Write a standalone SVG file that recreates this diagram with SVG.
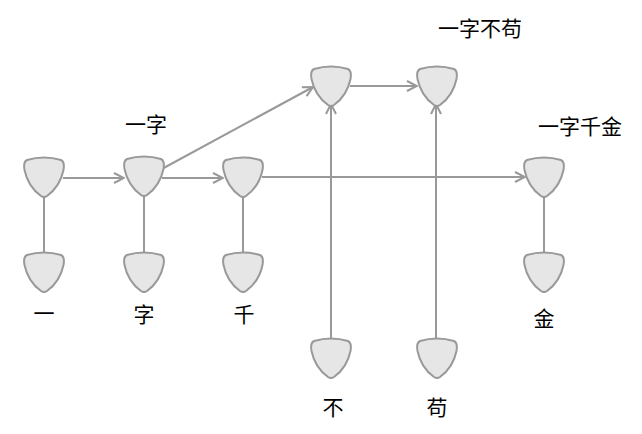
<svg xmlns="http://www.w3.org/2000/svg" width="642" height="434" viewBox="0 0 642 434">
<style>
.n{fill:#e6e6e6;stroke:#999;stroke-width:2}
.e{fill:none;stroke:#999;stroke-width:2}
.t{font-family:"Noto Sans CJK SC","Liberation Sans",sans-serif;font-size:21px;fill:#000;text-anchor:middle}
</style>
<defs>
<path id="sh" d="M-17,3 Q0,-2 17,3 Q21,5 19.5,13 C17,25 10,34 3,39 Q0,41 -3,39 C-10,34 -17,25 -19.5,13 Q-21,5 -17,3 Z"/>
<marker id="a" viewBox="0 0 12 12" refX="11" refY="6" markerWidth="12" markerHeight="12" markerUnits="userSpaceOnUse" orient="auto">
<path d="M1,1 L11,6 L1,11" fill="none" stroke="#999" stroke-width="2"/>
</marker>
</defs>
<g id="connectors">
<line class="e" x1="44" y1="197" x2="44" y2="252"/>
<line class="e" x1="144" y1="197" x2="144" y2="252"/>
<line class="e" x1="243" y1="197" x2="243" y2="252"/>
<line class="e" x1="544" y1="197" x2="544" y2="252"/>
<line class="e" x1="63" y1="178" x2="124" y2="178" marker-end="url(#a)"/>
<line class="e" x1="162" y1="178" x2="223" y2="178" marker-end="url(#a)"/>
<line class="e" x1="262" y1="177" x2="525" y2="177" marker-end="url(#a)"/>
<line class="e" x1="160" y1="170" x2="313" y2="87" marker-end="url(#a)"/>
<line class="e" x1="350" y1="86" x2="417" y2="86" marker-end="url(#a)"/>
<line class="e" x1="331" y1="338" x2="331" y2="104" marker-end="url(#a)"/>
<line class="e" x1="436" y1="338" x2="436" y2="104" marker-end="url(#a)"/>
</g>
<g id="n1"><use href="#sh" class="n" x="44" y="157"/></g>
<g id="n2"><use href="#sh" class="n" x="144" y="156"/><text class="t" x="146" y="132">一字</text></g>
<g id="n3"><use href="#sh" class="n" x="243" y="157"/></g>
<g id="n4"><use href="#sh" class="n" x="544" y="157"/><text class="t" x="580" y="134">一字千金</text></g>
<g id="n5"><use href="#sh" class="n" x="331" y="66"/></g>
<g id="n6"><use href="#sh" class="n" x="437" y="66"/><text class="t" x="480" y="36">一字不苟</text></g>
<g id="b1"><use href="#sh" class="n" x="44" y="252"/><text class="t" x="44" y="321">一</text></g>
<g id="b2"><use href="#sh" class="n" x="144" y="252"/><text class="t" x="144" y="322">字</text></g>
<g id="b3"><use href="#sh" class="n" x="243" y="252"/><text class="t" x="244" y="322">千</text></g>
<g id="b4"><use href="#sh" class="n" x="544" y="252"/><text class="t" x="544" y="326">金</text></g>
<g id="b5"><use href="#sh" class="n" x="331" y="338"/><text class="t" x="333" y="415">不</text></g>
<g id="b6"><use href="#sh" class="n" x="437" y="338"/><text class="t" x="437" y="415">苟</text></g>
</svg>
